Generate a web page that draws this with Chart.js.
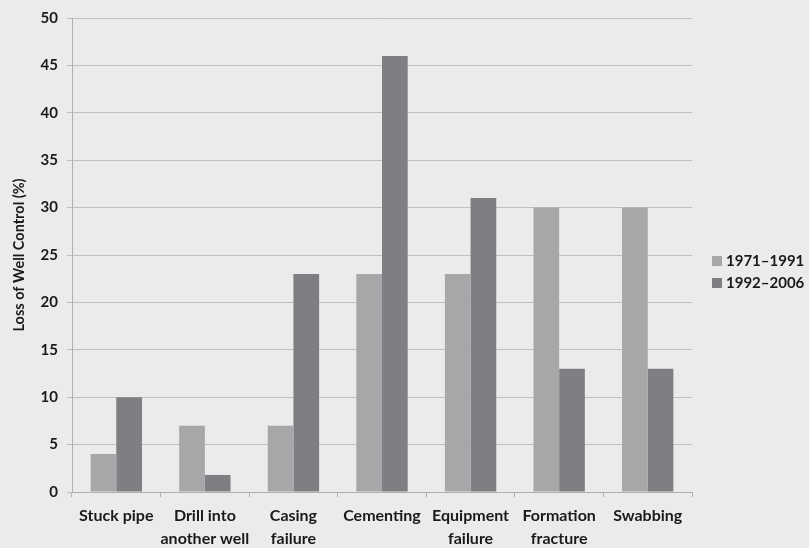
<!DOCTYPE html>
<html>
<head>
<meta charset="utf-8">
<script src="https://cdn.jsdelivr.net/npm/chart.js@4/dist/chart.umd.min.js"></script>
<style>
    html, body { margin: 0; padding: 0; background: #ebebeb; }
    #wrap { width: 809px; height: 548px; }
</style>
</head>
<body>
<div id="wrap"><canvas id="chart" width="809" height="548"></canvas></div>
<script>
// Chart values
const categories = [
    "Stuck pipe",
    ["Drill into", "another well"],
    ["Casing", "failure"],
    "Cementing",
    ["Equipment", "failure"],
    ["Formation", "fracture"],
    "Swabbing"
];
const seriesNames = ["1971–1991", "1992–2006"];
const values1971 = [4, 7, 7, 23, 23, 30, 30];
const values1992 = [10, 1.8, 23, 46, 31, 13, 13];
const yTicks = [0, 5, 10, 15, 20, 25, 30, 35, 40, 45, 50];

const fontFamily = "Lato, 'Liberation Sans', sans-serif";
const textColor = "#1a1a1a";
const gridColor = "#bfbfbf";

// Legend to the right of the plot, drawn by hand so the spacing matches
const sideLegend = {
    id: "sideLegend",
    afterDraw(chart) {
        const c = chart.ctx;
        const x = chart.chartArea.right + 20;
        const yMid = 272;
        const rowGap = 22;
        c.save();
        c.font = "bold 15px " + fontFamily;
        c.textBaseline = "middle";
        c.textAlign = "left";
        chart.data.datasets.forEach((ds, i) => {
            const y = yMid + (i - 0.5) * rowGap;
            c.fillStyle = ds.backgroundColor;
            c.fillRect(x, y - 5, 10, 10);
            c.fillStyle = textColor;
            c.fillText(ds.label, x + 14, y);
        });
        c.restore();
    },
};

const ctx = document.getElementById("chart").getContext("2d");

new Chart(ctx, {
    type: "bar",
    data: {
        labels: categories,
        datasets: [
            {
                label: seriesNames[0],
                data: values1971,
                backgroundColor: "#a7a7aa",
            },
            {
                label: seriesNames[1],
                data: values1992,
                backgroundColor: "#7f7f83",
            },
        ],
    },
    options: {
        responsive: false,
        animation: false,
        layout: {
            padding: { top: 10, left: 0, right: 117, bottom: 0 },
        },
        datasets: {
            bar: {
                categoryPercentage: 0.58,
                barPercentage: 1.0,
            },
        },
        scales: {
            x: {
                grid: {
                    drawOnChartArea: false,
                    drawTicks: true,
                    tickLength: 5,
                    color: "#b0b0b0",
                },
                border: { color: "#b0b0b0" },
                ticks: {
                    color: textColor,
                    padding: 8,
                    maxRotation: 0,
                    autoSkip: false,
                    font: { family: fontFamily, size: 16, weight: "bold", lineHeight: 1.4 },
                },
                afterFit: (scale) => { scale.height = 56; },
            },
            y: {
                min: 0,
                max: 50,
                afterBuildTicks: (scale) => {
                    scale.ticks = yTicks.map((v) => ({ value: v }));
                },
                grid: {
                    color: gridColor,
                    tickLength: 5,
                },
                border: { color: "#b0b0b0" },
                ticks: {
                    color: textColor,
                    padding: 9,
                    font: { family: fontFamily, size: 15, weight: "bold" },
                },
                title: {
                    display: true,
                    text: "Loss of Well Control (%)",
                    color: textColor,
                    padding: { top: 11, bottom: 0 },
                    font: { family: fontFamily, size: 14.5, weight: "bold" },
                },
                afterFit: (scale) => { scale.width = 72; },
            },
        },
        plugins: {
            legend: { display: false },
            tooltip: { enabled: false },
        },
    },
    plugins: [sideLegend],
});
</script>
</body>
</html>
